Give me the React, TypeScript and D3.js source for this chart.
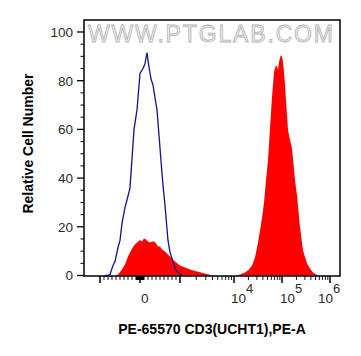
import React from "react";
import * as d3 from "d3";

// control (unstained / isotype) histogram
const blueX = [-875, -825, -750, -675, -625, -550, -500, -450, -375, -325, -250, -200, -150, -75, 0, 75, 125, 175, 225, 275, 325, 375, 425, 475, 525, 575, 625, 700, 750, 800, 875, 925, 1090];
const blueY = [0, 0, 0.4, 4.1, 5.8, 11.5, 14.4, 21.4, 28, 31, 36, 48, 60, 68, 83, 85, 87, 91.4, 85.6, 80.7, 78.2, 73, 68, 57.6, 47, 37, 28.8, 14.4, 9.5, 7, 3.3, 1.6, 0];

// stained sample, negative population
const redLowX = [-625, -550, -450, -375, -300, -225, -150, -75, 0, 50, 100, 150, 200, 250, 300, 350, 400, 450, 500, 550, 625, 700, 775, 875, 1000, 1240, 1530, 2070, 2900, 4080];
const redLowY = [0, 0.4, 2.5, 4.5, 7.8, 10.3, 12.3, 13.6, 14.6, 14, 15.2, 14.8, 14, 13.6, 14, 14, 13.2, 11.9, 11.9, 10.7, 9.9, 8.6, 7.4, 5.8, 4.1, 3.3, 2.5, 1.6, 0.8, 0];

// stained sample, CD3+ population
const redHighX = [10490, 13340, 16950, 20540, 23710, 27380, 31620, 34810, 38310, 42170, 46420, 51090, 56230, 61900, 64940, 68130, 71460, 74990, 78700, 82540, 86600, 90850, 95310, 100000, 104900, 110100, 115500, 121200, 127100, 133400, 146800, 161600, 169500, 186600, 205400, 237100, 273800, 331900, 383100, 442200, 510900, 619000];
const redHighY = [0, 0.4, 1.2, 2.5, 4.1, 7.4, 13.6, 18.5, 23.5, 30, 39, 47.3, 60.5, 73.3, 78.2, 83.5, 85.2, 86, 86, 84.4, 87.7, 89.3, 90.5, 90, 87.7, 83.5, 78.2, 72, 65.8, 59.7, 55.6, 52.3, 48, 39, 33, 19.8, 10.3, 4.9, 2.9, 1.2, 0.4, 0];

const yTicks = [0, 20, 40, 60, 80, 100];
const yMinor = d3.range(0, 101, 5).filter((v) => v % 20 !== 0);
const xMajor = [-1000, 0, 1000, 1e4, 1e5, 1e6];
const xMinor = [
  ...d3.range(-900, 0, 100),
  ...d3.range(-90, 0, 10),
  ...d3.range(10, 100, 10),
  ...d3.range(100, 1000, 100),
  ...d3.range(2000, 10000, 1000),
  ...d3.range(20000, 100000, 10000),
  ...d3.range(200000, 1000000, 100000),
];
const xLabels = [
  { v: 0, base: "0", exp: "" },
  { v: 1e4, base: "10", exp: "4" },
  { v: 1e5, base: "10", exp: "5" },
  { v: 1e6, base: "10", exp: "6" },
];
const labelShift = [1, -3, -2, -12];

// linear around zero, log above 10^3 (biexponential-like display)
const biex = (v: number) =>
  Math.abs(v) < 1000 ? v / 1000 : Math.sign(v) * (1 + Math.log10(Math.abs(v) / 1000));

const font = "'Liberation Sans', Arial, sans-serif";

export default function App() {
  const left = 84, right = 340, top = 20, bottom = 276;
  const xs = d3.scaleLinear().domain([-1, 0, 1, 2, 3, 4]).range([100, 140, 180, 234, 282, 330]);
  const x = (v: number) => xs(biex(v));
  const y = d3.scaleLinear().domain([0, 100]).range([275.5, 32]);

  const area = d3
    .area<[number, number]>()
    .x((d) => x(d[0]))
    .y0(y(0))
    .y1((d) => y(d[1]));
  const line = d3
    .line<[number, number]>()
    .x((d) => x(d[0]))
    .y((d) => y(d[1]));

  const redLow = redLowX.map((v, i) => [v, redLowY[i]] as [number, number]);
  const redHigh = redHighX.map((v, i) => [v, redHighY[i]] as [number, number]);
  const blue = blueX.map((v, i) => [v, blueY[i]] as [number, number]);

  return (
    <svg width={361} height={356} style={{ position: "absolute", left: 0, top: 0 }} fontFamily={font}>
      <rect width={361} height={356} fill="#fff" />
      <text
        x={88}
        y={42}
        fontSize={23}
        textLength={245}
        lengthAdjust="spacing"
        fill="#ededed"
        stroke="#b4b4b4"
        strokeWidth={0.8}
      >
        WWW.PTGLAB.COM
      </text>

      <path d={area(redLow) ?? ""} fill="#ff0000" />
      <path d={area(redHigh) ?? ""} fill="#ff0000" />
      <path d={line(blue) ?? ""} fill="none" stroke="#12128c" strokeWidth={1.3} strokeLinejoin="round" />

      <rect x={left} y={top} width={right - left} height={bottom - top} fill="none" stroke="#000" strokeWidth={1.5} />

      {yTicks.map((t) => (
        <g key={t}>
          <line x1={left - 7} x2={left} y1={y(t)} y2={y(t)} stroke="#000" strokeWidth={1.3} />
          <text x={left - 11} y={y(t)} dy="0.36em" textAnchor="end" fontSize={13.5} fill="#2a2a2a">
            {t}
          </text>
        </g>
      ))}
      {yMinor.map((t) => (
        <line key={t} x1={left - 3.5} x2={left} y1={y(t)} y2={y(t)} stroke="#000" strokeWidth={1} />
      ))}

      {xMajor.map((t) => (
        <line key={t} x1={x(t)} x2={x(t)} y1={bottom} y2={bottom + 7} stroke="#000" strokeWidth={1.5} />
      ))}
      {xMinor.map((t) => (
        <line key={t} x1={x(t)} x2={x(t)} y1={bottom} y2={bottom + 4} stroke="#000" strokeWidth={0.9} />
      ))}
      {xLabels.map((l, i) => (
        <text key={l.v} x={x(l.v) + labelShift[i]} y={303} fontSize={13.5} fill="#2a2a2a">
          {l.base}
          {l.exp && (
            <tspan dy={-10} fontSize={13}>
              {l.exp}
            </tspan>
          )}
        </text>
      ))}

      <text x={212} y={334} textAnchor="middle" fontSize={14} fontWeight="bold" fill="#000">
        PE-65570 CD3(UCHT1),PE-A
      </text>
      <text
        transform="translate(32.5,143.5) rotate(-90)"
        textAnchor="middle"
        fontSize={14}
        fontWeight="bold"
        fill="#000"
      >
        Relative Cell Number
      </text>
    </svg>
  );
}
